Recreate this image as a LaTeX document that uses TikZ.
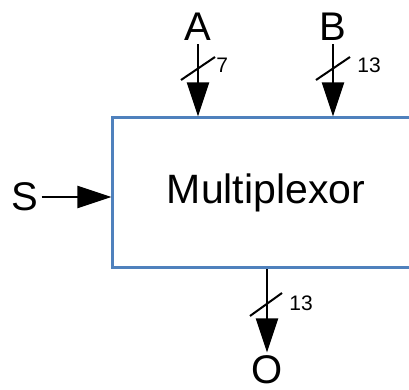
\documentclass[tikz,border=0pt]{standalone}
\usepackage{fontspec}
\setmainfont{Liberation Sans}
\usetikzlibrary{positioning,arrows.meta}
\definecolor{boxblue}{RGB}{79,129,189}

\begin{document}
\begin{tikzpicture}[x=0.5pt,y=-0.5pt]
\tikzstyle{unit}=[rectangle,draw=boxblue,line width=1.5pt,minimum width=153pt,minimum height=75pt,font=\fontsize{20.5}{24}\selectfont]
\tikzstyle{port}=[inner sep=1.5pt,font=\fontsize{20}{24}\selectfont]
\tikzstyle{buswidth}=[inner sep=0pt,anchor=west,font=\fontsize{10.5}{12}\selectfont]
\tikzstyle{wire}=[line width=1pt,-{Triangle[length=17pt,width=11pt]}]
\tikzstyle{slash}=[line width=1pt]
\clip (0,0) rectangle (409,390);
\node (mux) [unit] at (266,193) {Multiplexor};
\node (a) [port] at (198,27) {A};
\node (b) [port] at (333,27) {B};
\node (s) [port] at (25,197) {S};
\node (o) [port] at (267,370) {O};
\draw[wire] (a) -- (a |- mux.north);
\draw[wire] (b) -- (b |- mux.north);
\draw[wire] (s) -- (mux.west |- s);
\draw[wire] (mux.south -| o) -- (o);
% bus width marks
\coordinate (aslash) at (198,68);
\coordinate (bslash) at (333,68);
\coordinate (oslash) at (266,304);
\draw[slash] ([shift={(-17,12)}]aslash) -- ([shift={(17,-11)}]aslash);
\draw[slash] ([shift={(-17,12)}]bslash) -- ([shift={(17,-11)}]bslash);
\draw[slash] ([shift={(-16,12)}]oslash) -- ([shift={(16,-11)}]oslash);
\node (na) [buswidth] at (216,65) {7};
\node (nb) [buswidth] at (357,65) {13};
\node (no) [buswidth] at (289,303) {13};
\end{tikzpicture}
\end{document}
